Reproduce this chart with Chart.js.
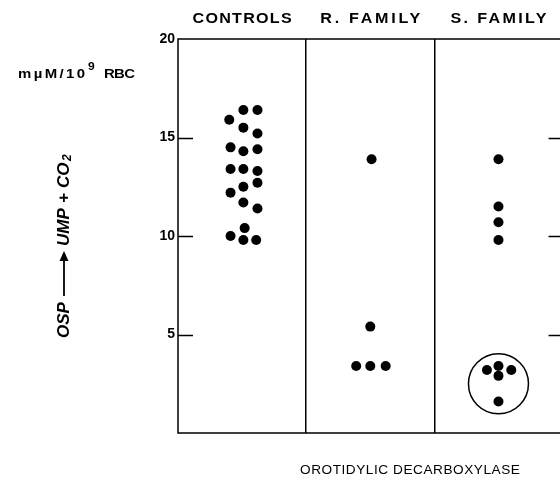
<!DOCTYPE html>
<html>
<head>
<meta charset="utf-8">
<script src="https://cdn.jsdelivr.net/npm/chart.js@4/dist/chart.umd.min.js"></script>
<style>
  html, body { margin: 0; padding: 0; background: #fff; }
  canvas { display: block; }
</style>
</head>
<body>
<canvas id="chart" width="560" height="477"></canvas>
<script>
// ---------- data ----------
const groups = ["CONTROLS", "R. FAMILY", "S. FAMILY"];
const yTicks = [5, 10, 15, 20];

const controlsX = [0.40, 0.51, 0.62, 0.51, 0.62, 0.41, 0.51, 0.62, 0.41, 0.51, 0.62, 0.41, 0.51, 0.62, 0.51, 0.62, 0.41, 0.52, 0.51, 0.61];
const controlsY = [15.9, 16.4, 16.4, 15.5, 15.2, 14.5, 14.3, 14.4, 13.4, 13.4, 13.3, 12.2, 12.5, 12.7, 11.7, 11.4, 10.0, 10.4, 9.8, 9.8];

const rFamilyX = [1.51, 1.50, 1.39, 1.50, 1.62];
const rFamilyY = [13.9, 5.4, 3.4, 3.4, 3.4];

const sFamilyX = [2.50, 2.50, 2.50, 2.50, 2.41, 2.50, 2.50, 2.60, 2.50];
const sFamilyY = [13.9, 11.5, 10.7, 9.8, 3.2, 3.4, 2.9, 3.2, 1.6];

// the ring drawn round the low S. family cluster
const ringX = [2.50];
const ringY = [2.5];

// the third panel runs a little past the right edge of the picture
const xMax = 2.98;

const toPts = (xs, ys) => xs.map((x, i) => ({ x, y: ys[i] }));

function dots(label, xs, ys) {
  return {
    label, data: toPts(xs, ys),
    pointRadius: 5, pointHoverRadius: 5,
    backgroundColor: "#000", borderColor: "#000", borderWidth: 0
  };
}

const FONT = "'Liberation Sans', Arial, sans-serif";

// draw text from x to x+width: glyphs widened by `stretch`, the rest goes to letter spacing
function wideText(ctx, text, x, y, width, stretch) {
  ctx.save();
  ctx.letterSpacing = "0px";
  ctx.textAlign = "left";
  const w0 = ctx.measureText(text).width;
  const n = text.length;
  const sp = n > 1 ? (width / stretch - w0) / (n - 1) : 0;
  ctx.letterSpacing = sp.toFixed(2) + "px";
  ctx.translate(x, y);
  ctx.scale(stretch, 1);
  ctx.fillText(text, 0, 0);
  ctx.restore();
}

// ---------- extra drawing: frame ticks and texts ----------
const decor = {
  id: "decor",
  afterDraw(chart) {
    const ctx = chart.ctx;
    const a = chart.chartArea;
    const xs = chart.scales.x, ys = chart.scales.y;
    ctx.save();
    ctx.strokeStyle = "#000";
    ctx.fillStyle = "#000";
    ctx.lineWidth = 1.5;
    // frame: left, top, bottom (right side is off the picture)
    ctx.beginPath();
    ctx.moveTo(a.right + 5, a.top); ctx.lineTo(a.left, a.top);
    ctx.lineTo(a.left, a.bottom); ctx.lineTo(a.right + 5, a.bottom);
    ctx.stroke();

    // inward tick marks on both sides
    const rightEdge = xs.getPixelForValue(3);
    [5, 10, 15].forEach(v => {
      const y = Math.round(ys.getPixelForValue(v)) + 0.5;
      ctx.beginPath();
      ctx.moveTo(a.left, y); ctx.lineTo(a.left + 15, y);
      ctx.moveTo(rightEdge - 14, y); ctx.lineTo(rightEdge, y);
      ctx.stroke();
    });

    ctx.textBaseline = "middle";
    // panel titles
    ctx.font = "bold 14px " + FONT;
    const widths = [99, 100, 96];
    groups.forEach((g, i) => {
      const cx = xs.getPixelForValue(i + 0.5);
      wideText(ctx, g, cx - widths[i] / 2, 19, widths[i], 1.15);
    });

    // unit label
    ctx.font = "bold 13px " + FONT;
    wideText(ctx, "mµM/10", 18, 74, 67, 1.15);
    ctx.font = "bold 11px " + FONT;
    wideText(ctx, "9", 88, 67, 7, 1.1);
    ctx.font = "bold 13px " + FONT;
    wideText(ctx, "RBC", 104, 74, 31, 1.15);

    // rotated reaction label
    ctx.save();
    ctx.translate(64, 338);
    ctx.rotate(-Math.PI / 2);
    ctx.textAlign = "left";
    ctx.font = "italic bold 17px " + FONT;
    ctx.fillText("OSP", 0, 0);
    ctx.lineWidth = 1.8;
    ctx.beginPath(); ctx.moveTo(42, 0); ctx.lineTo(80, 0); ctx.stroke();
    ctx.beginPath(); ctx.moveTo(87, 0); ctx.lineTo(77, -4.5); ctx.lineTo(77, 4.5); ctx.closePath(); ctx.fill();
    ctx.fillText("UMP", 92, 0);
    ctx.fillText("+", 135, 0);
    ctx.fillText("CO", 150, 0);
    ctx.font = "italic bold 12px " + FONT;
    ctx.fillText("2", 177, 4);
    ctx.restore();

    // bottom caption
    ctx.font = "13px " + FONT;
    wideText(ctx, "OROTIDYLIC DECARBOXYLASE", 300, 470, 220, 1.05);
    ctx.restore();
  }
};

// ---------- chart ----------
new Chart(document.getElementById("chart"), {
  type: "scatter",
  data: {
    datasets: [
      dots("Controls", controlsX, controlsY),
      dots("R. family", rFamilyX, rFamilyY),
      dots("S. family", sFamilyX, sFamilyY),
      {
        label: "cluster", data: toPts(ringX, ringY),
        pointRadius: 30, pointHoverRadius: 30,
        backgroundColor: "rgba(0,0,0,0)", borderColor: "#000", borderWidth: 1.5
      }
    ]
  },
  options: {
    responsive: false,
    animation: false,
    events: [],
    layout: { autoPadding: false, padding: { top: 39, right: 0, bottom: 44, left: 0 } },
    plugins: { legend: { display: false }, tooltip: { enabled: false } },
    scales: {
      x: {
        type: "linear", min: 0, max: xMax,
        afterBuildTicks: s => { s.ticks = [1, 2].map(v => ({ value: v })); },
        afterFit: s => { s.height = 0; },
        ticks: { display: false },
        grid: { color: "#000", lineWidth: 1.5, drawTicks: false },
        border: { display: false }
      },
      y: {
        min: 0, max: 20,
        afterBuildTicks: s => { s.ticks = yTicks.map(v => ({ value: v })); },
        afterFit: s => { s.width = 178; },
        ticks: {
          color: "#000", padding: 3,
          font: { family: FONT, size: 14, weight: "bold" }
        },
        grid: { drawOnChartArea: false, drawTicks: false },
        border: { display: false }
      }
    }
  },
  plugins: [decor]
});
</script>
</body>
</html>
